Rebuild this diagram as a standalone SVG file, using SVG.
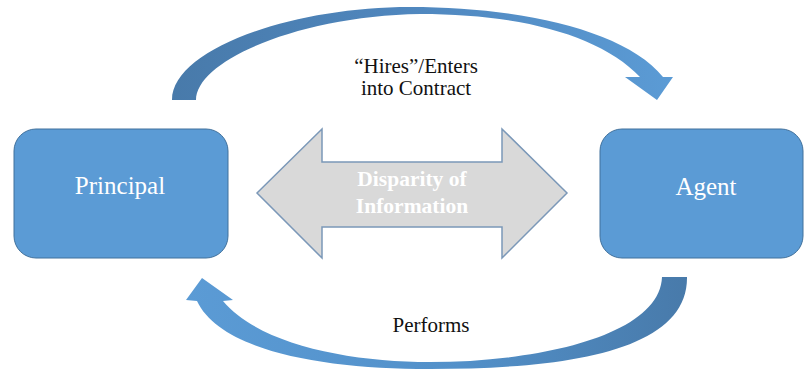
<svg xmlns="http://www.w3.org/2000/svg" width="804" height="372" viewBox="0 0 804 372">
  <style>
    .box { fill: #5b9bd5; stroke: #41719c; stroke-width: 1; }
    .box-label { font-family: "Liberation Serif", "Times New Roman", serif; font-size: 25px; fill: #ffffff; text-anchor: middle; }
    .label { font-family: "Liberation Serif", "Times New Roman", serif; font-size: 21px; fill: #111111; text-anchor: middle; }
    .gap-label { font-family: "Liberation Serif", "Times New Roman", serif; font-size: 21.5px; font-weight: bold; fill: #ffffff; text-anchor: middle; }
    .double-arrow { fill: #d9d9d9; stroke: #7b98b8; stroke-width: 1.5; stroke-linejoin: miter; }
  </style>
  <defs>
    <linearGradient id="gradTop" gradientUnits="userSpaceOnUse" x1="172" y1="0" x2="673" y2="0">
      <stop offset="0" stop-color="#487aaa"/>
      <stop offset="0.45" stop-color="#4f86bd"/>
      <stop offset="1" stop-color="#5b9bd5"/>
    </linearGradient>
    <linearGradient id="gradBottom" gradientUnits="userSpaceOnUse" x1="186" y1="0" x2="687" y2="0">
      <stop offset="0" stop-color="#5b9bd5"/>
      <stop offset="0.55" stop-color="#5290c9"/>
      <stop offset="1" stop-color="#487aaa"/>
    </linearGradient>
  </defs>

  <!-- Connectors -->
  <g id="connectors">
    <!-- Principal to Agent, over the top -->
    <path id="hires-arrow" fill="url(#gradTop)"
          d="M172,100 C172,50 290,7 410,7 C520,7 625,30 663,77 L673,77 L657,100 L625,77 L640,77 C600,35 520,14 420,14 C300,16 196,60 196,100 Z"/>
    <!-- Agent back to Principal, underneath -->
    <path id="performs-arrow" fill="url(#gradBottom)"
          d="M202,278 L233,300 L223,301 C260,345 350,362 430,362 C540,362 660,335 662,277 L687,277 C688,350 570,369 430,369 C320,369 220,350 197,301 L186,300 Z"/>
    <text class="label" x="416" y="73">“Hires”/Enters</text>
    <text class="label" x="416" y="95">into Contract</text>
    <text class="label" x="431" y="332">Performs</text>
  </g>

  <!-- Information gap between the two parties -->
  <g id="disparity">
    <path class="double-arrow" d="M257,193 L322,129 L322,162 L502,162 L502,129 L567,193 L502,258 L502,227 L322,227 L322,258 Z"/>
    <text class="gap-label" x="412" y="186">Disparity of</text>
    <text class="gap-label" x="412" y="213">Information</text>
  </g>

  <g id="principal">
    <rect class="box" x="14" y="129" width="214" height="129" rx="22" ry="22"/>
    <text class="box-label" x="120" y="194">Principal</text>
  </g>

  <g id="agent">
    <rect class="box" x="600" y="129" width="203" height="129" rx="22" ry="22"/>
    <text class="box-label" x="706" y="195">Agent</text>
  </g>
</svg>
